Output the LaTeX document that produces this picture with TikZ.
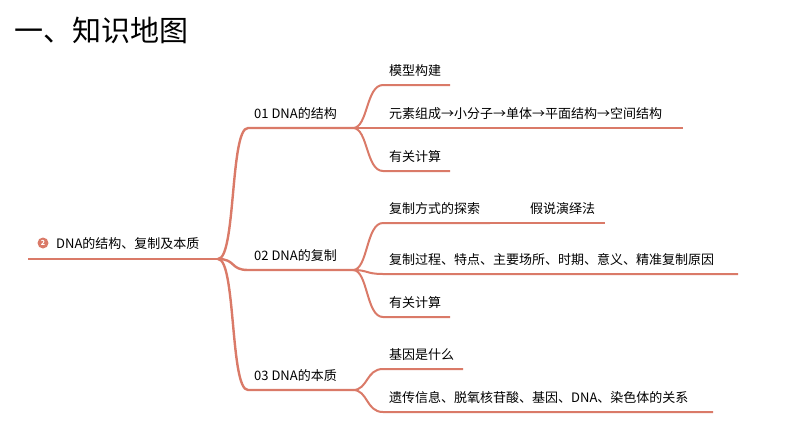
\documentclass[tikz,border=0pt]{standalone}
\usepackage{fontspec}
\setmainfont{Noto Sans CJK SC}
\usetikzlibrary{positioning}
\definecolor{salmon}{RGB}{218,122,104}
\tikzset{
    txt/.style={anchor=south west, inner sep=0pt, font=\fontsize{13}{15}\selectfont},
    branch/.style={salmon, line width=2.4pt},
    twig/.style={salmon, line width=2pt}
}

\begin{document}
\begin{tikzpicture}[x=1pt, y=-1pt]
    \useasboundingbox (0,0) rectangle (794,447);
    % Title
    \node [anchor=west, inner sep=0pt, font=\fontsize{29}{34}\selectfont] (title) at (14,30) {一、知识地图};
    % Root
    \coordinate (R0) at (28,259); \coordinate (R) at (218,259);
    \draw [branch] (R0) -- (R);
    \node [circle, fill=salmon, inner sep=0pt, minimum size=11pt, text=white, font=\fontsize{7}{7}\bfseries] (badge) at (43,243) {2};
    \node [txt] (root) at (56,250) {DNA的结构、复制及本质};
    % Branches
    \foreach \n/\y/\t in {1/128/01 DNA的结构, 2/270/02 DNA的复制, 3/390/03 DNA的本质} {
        \coordinate (B\n a) at (248,\y); \coordinate (B\n) at (353,\y);
        \draw [branch] (R) .. controls (236,259) and (230,\y) .. (B\n a) -- (B\n);
        \node [txt] (b\n) at (254,\y-8) {\t};
    }
    % Leaves
    \foreach \b/\by/\y/\x/\t in {1/128/85/450/模型构建, 1/128/128/683/元素组成→小分子→单体→平面结构→空间结构, 1/128/171/450/有关计算,
                             2/270/223/490/复制方式的探索, 2/270/274/738/复制过程、特点、主要场所、时期、意义、精准复制原因, 2/270/317/450/有关计算,
                             3/390/369/463/基因是什么, 3/390/412/713/遗传信息、脱氧核苷酸、基因、DNA、染色体的关系} {
        \coordinate (L) at (383,\y); \coordinate (E) at (\x,\y);
        \draw [twig] (B\b) .. controls (368,\by) and (366,\y) .. (L) -- (E);
        \node [txt] at (389,\y-8) {\t};
    }
    % Sub-leaf
    \coordinate (S) at (605,223);
    \draw [salmon, line width=1.2pt] (490,223) -- (S);
    \node [txt] (hyp) at (530,215) {假说演绎法};
\end{tikzpicture}
\end{document}
